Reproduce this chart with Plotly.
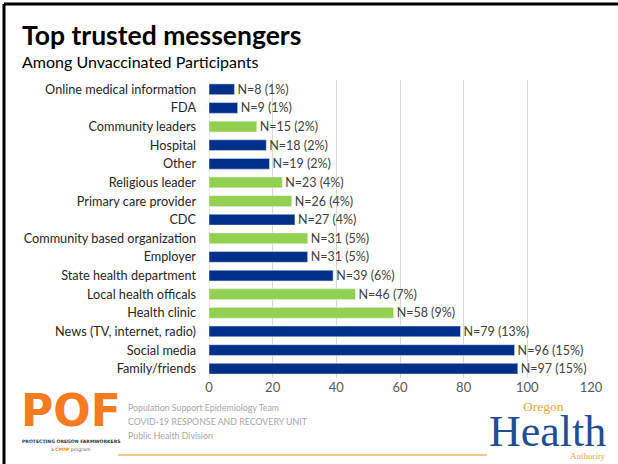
import plotly.graph_objects as go

categories = [
    "Online medical information", "FDA", "Community leaders", "Hospital", "Other",
    "Religious leader", "Primary care provider", "CDC", "Community based organization",
    "Employer", "State health department", "Local health officals", "Health clinic",
    "News (TV, internet, radio)", "Social media", "Family/friends",
]
counts = [8, 9, 15, 18, 19, 23, 26, 27, 31, 31, 39, 46, 58, 79, 96, 97]
percents = [1, 1, 2, 2, 2, 4, 4, 4, 5, 5, 6, 7, 9, 13, 15, 15]
community = {"Community leaders", "Religious leader", "Primary care provider",
             "Community based organization", "Local health officals", "Health clinic"}
x_ticks = [0, 20, 40, 60, 80, 100, 120]

BLUE = "#00308A"
GREEN = "#92D050"
FONT = "Lato"

# plot area in pixels: x 209..591, y 80..378
L, R, T, B = 209, 591, 80, 378
PW, PH = R - L, B - T


def px(x):
    return (x - L) / PW


def py(y):
    return (B - y) / PH


colors = [GREEN if c in community else BLUE for c in categories]
labels = [f"N={n} ({p}%)" for n, p in zip(counts, percents)]

fig = go.Figure()
fig.add_trace(go.Bar(
    x=counts, y=categories, orientation="h",
    marker=dict(color=colors),
    text=labels, textposition="outside", cliponaxis=False, constraintext="none",
    textfont=dict(family=FONT, size=12.5, color="#404040"),
))

fig.update_layout(
    width=618, height=464,
    paper_bgcolor="white", plot_bgcolor="white",
    margin=dict(l=L, r=618 - R, t=T, b=464 - B),
    bargap=0.42, showlegend=False,
    font=dict(family=FONT),
    xaxis=dict(range=[0, 120], tickvals=x_ticks, showgrid=True, gridcolor="#d9d9d9",
               gridwidth=1, zeroline=False, showline=False, ticks="",
               tickfont=dict(size=13, color="#595959")),
    yaxis=dict(autorange="reversed", showgrid=False, ticks="", ticklabelstandoff=12,
               tickfont=dict(size=12.7, color="#262626")),
)

# zero line drawn grey like the other gridlines
fig.add_shape(type="line", xref="x", yref="paper", x0=0, x1=0, y0=0, y1=1,
              line=dict(color="#d9d9d9", width=1), layer="below")

# slide border (left and top)
fig.add_shape(type="line", xref="paper", yref="paper", x0=px(4), x1=px(4),
              y0=py(464), y1=py(4), line=dict(color="black", width=3))
fig.add_shape(type="line", xref="paper", yref="paper", x0=px(4), x1=px(618),
              y0=py(4), y1=py(4), line=dict(color="black", width=3))

# titles
fig.add_annotation(text="<b>Top trusted messengers</b>", xref="paper", yref="paper",
                   x=px(20), y=py(35), xanchor="left", yanchor="middle",
                   showarrow=False, font=dict(family=FONT, size=26.5, color="black"))
fig.add_annotation(text="Among Unvaccinated Participants", xref="paper", yref="paper",
                   x=px(20), y=py(62), xanchor="left", yanchor="middle",
                   showarrow=False, font=dict(family=FONT, size=16, color="black"))

# footer text
footer = ["Population Support Epidemiology Team", "COVID-19 RESPONSE AND RECOVERY UNIT",
          "Public Health Division"]
for i, line in enumerate(footer):
    fig.add_annotation(text=line, xref="paper", yref="paper",
                       x=px(126), y=py(407 + 14 * i),
                       xanchor="left", yanchor="middle", showarrow=False,
                       font=dict(family=FONT, size=8.8, color="#a6a6a6"))
fig.add_shape(type="line", xref="paper", yref="paper", x0=px(118), x1=px(487),
              y0=py(455), y1=py(455), line=dict(color="#F2B45A", width=1.5))

# POF logo (text approximation)
fig.add_annotation(text="<b>POF</b>", xref="paper", yref="paper",
                   x=px(71), y=py(411), xanchor="center", yanchor="middle",
                   showarrow=False, font=dict(family="DejaVu Sans", size=44, color="#F47B20"))
fig.add_annotation(text="<b>PROTECTING OREGON FARMWORKERS</b>", xref="paper", yref="paper",
                   x=px(71), y=py(441), xanchor="center", yanchor="middle",
                   showarrow=False, font=dict(family="DejaVu Sans", size=4.6, color="#333333"))
fig.add_annotation(text="a <b><span style='color:#F47B20'>CPOP</span></b> program", xref="paper",
                   yref="paper", x=px(71), y=py(449), xanchor="center",
                   yanchor="middle", showarrow=False,
                   font=dict(family="DejaVu Sans", size=4.6, color="#555555"))

# Oregon Health Authority logo (text approximation)
fig.add_annotation(text="Health", xref="paper", yref="paper",
                   x=px(547), y=py(431), xanchor="center", yanchor="middle",
                   showarrow=False, font=dict(family="Liberation Serif", size=44, color="#1F4E96"))
fig.add_annotation(text="Oregon", xref="paper", yref="paper",
                   x=px(543), y=py(406), xanchor="center", yanchor="middle",
                   showarrow=False, font=dict(family="Liberation Serif", size=13.5, color="#E8A33C"))
fig.add_annotation(text="Authority", xref="paper", yref="paper",
                   x=px(587), y=py(456), xanchor="center", yanchor="middle",
                   showarrow=False, font=dict(family="Liberation Serif", size=9, color="#E8A33C"))

fig.write_html("out.html", config={"displayModeBar": False},
               post_script="document.body.style.margin='0';")
